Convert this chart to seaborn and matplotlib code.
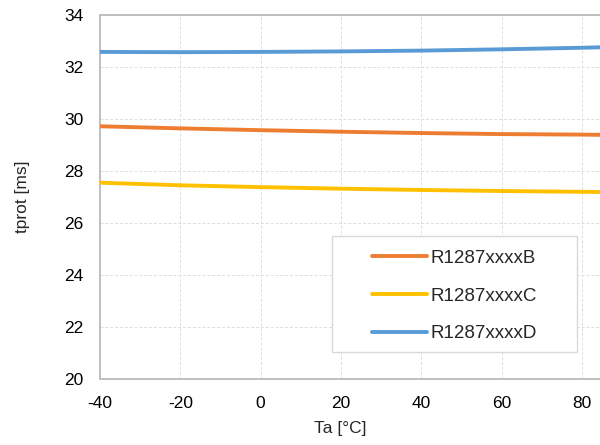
import matplotlib
matplotlib.use("Agg")
import matplotlib.pyplot as plt
import pandas as pd
import seaborn as sns
from matplotlib.patches import Rectangle

# --- data ----------------------------------------------------------------- #
ta = [-40, -20, 0, 20, 40, 60, 80, 85]
tprot_b = [29.72, 29.64, 29.57, 29.51, 29.46, 29.42, 29.40, 29.39]
tprot_c = [27.55, 27.45, 27.38, 27.32, 27.27, 27.23, 27.20, 27.19]
tprot_d = [32.58, 32.57, 32.58, 32.60, 32.63, 32.68, 32.74, 32.76]
series = ["R1287xxxxB", "R1287xxxxC", "R1287xxxxD"]
colors = ["#ED7D31", "#FFC000", "#5B9BD5"]

df = pd.concat(
    [
        pd.DataFrame({"Ta": ta, "tprot": vals, "series": name})
        for name, vals in zip(series, [tprot_b, tprot_c, tprot_d])
    ],
    ignore_index=True,
)

sns.set_theme(style="white")
plt.rcParams["font.family"] = ["Liberation Sans", "DejaVu Sans"]
plt.rcParams["axes.unicode_minus"] = False

fig = plt.figure(figsize=(6.0, 4.45), dpi=100)
ax = fig.add_axes([100 / 600, 1 - 379 / 445, 1 - 100 / 600, (379 - 15) / 445])

sns.lineplot(
    data=df, x="Ta", y="tprot", hue="series", hue_order=series,
    palette=dict(zip(series, colors)), linewidth=2.8, ax=ax, zorder=4,
)

ax.set_xlim(-40, 84.5)
ax.set_ylim(20, 34)
ax.set_xticks(range(-40, 81, 20))
ax.set_yticks(range(20, 35, 2))
ax.tick_params(axis="both", length=0, labelsize=12.5, colors="#000000")
ax.tick_params(axis="x", pad=12)
ax.tick_params(axis="y", pad=12)
ax.grid(True, color="#dddddd", linestyle=(0, (3, 2)), linewidth=0.7)
ax.set_axisbelow(True)

for side in ["left", "bottom", "top"]:
    ax.spines[side].set_color("#bfbfbf")
    ax.spines[side].set_linewidth(1.4)
ax.spines["right"].set_visible(False)

ax.set_xlabel("Ta [°C]", fontsize=12.5)
ax.set_ylabel("tprot [ms]", fontsize=12.5)
ax.xaxis.set_label_coords((340 - 100) / 500, -(421 - 379) / 364)
ax.yaxis.set_label_coords(-(100 - 30) / 500, 0.5)

# legend box
ax.add_patch(Rectangle(
    ((332 - 100) / 500, (379 - 352) / 364), (577 - 332) / 500, (352 - 236) / 364,
    transform=ax.transAxes, facecolor="white", edgecolor="#d9d9d9",
    linewidth=1.0, zorder=3,
))
ax.legend(
    loc="center", bbox_to_anchor=((454.5 - 100) / 500, (379 - 296) / 364),
    frameon=False, fontsize=13.5, handlelength=2.9, handletextpad=0.2,
    labelspacing=1.1, title=None,
)

fig.savefig("out.png", dpi=100)
